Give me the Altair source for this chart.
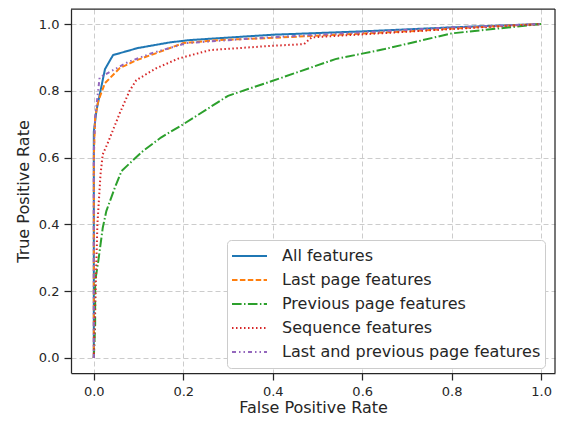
import altair as alt
import pandas as pd

series_names = ["All features", "Last page features", "Previous page features",
                "Sequence features", "Last and previous page features"]
colors = ["#1f77b4", "#ff7f0e", "#2ca02c", "#d62728", "#9467bd"]
dashes = [[1, 0], [5.5, 2.4], [9.6, 2.4, 1.5, 2.4], [1.5, 2.5], [4, 3, 1.5, 3, 1.5, 3]]

all_fpr = [0, 0, 0.006, 0.025, 0.043, 0.098, 0.17, 0.215, 0.4, 0.6, 0.8, 1.0]
all_tpr = [0, 0.677, 0.742, 0.865, 0.907, 0.928, 0.945, 0.952, 0.968, 0.978, 0.99, 1.0]

last_fpr = [0, 0, 0.003, 0.01, 0.025, 0.058, 0.096, 0.14, 0.2, 0.28, 0.39, 0.483, 0.7, 0.85, 1.0]
last_tpr = [0, 0.6, 0.72, 0.77, 0.823, 0.868, 0.892, 0.913, 0.943, 0.952, 0.958, 0.964, 0.978, 0.99, 1.0]

prev_fpr = [0, 0.003, 0.003, 0.01, 0.02, 0.028, 0.047, 0.062, 0.11, 0.15, 0.2, 0.3, 0.4, 0.54, 0.65, 0.8, 1.0]
prev_tpr = [0, 0.1, 0.23, 0.29, 0.39, 0.44, 0.51, 0.56, 0.62, 0.66, 0.70, 0.785, 0.83, 0.895, 0.925, 0.972, 1.0]

seq_fpr = [0, 0.003, 0.008, 0.015, 0.02, 0.03, 0.04, 0.058, 0.08, 0.095, 0.14, 0.19, 0.26, 0.39, 0.47, 0.487, 0.8, 1.0]
seq_tpr = [0, 0.15, 0.4, 0.55, 0.61, 0.64, 0.673, 0.733, 0.80, 0.832, 0.868, 0.897, 0.922, 0.934, 0.94, 0.96, 0.985, 1.0]

both_fpr = [0, 0, 0.003, 0.013, 0.076, 0.13, 0.208, 0.39, 0.6, 0.8, 1.0]
both_tpr = [0, 0.62, 0.72, 0.84, 0.886, 0.913, 0.943, 0.96, 0.975, 0.99, 1.0]

x_ticks = [0.0, 0.2, 0.4, 0.6, 0.8, 1.0]
y_ticks = [0.0, 0.2, 0.4, 0.6, 0.8, 1.0]

rows = []
for name, fx, ty in zip(series_names,
                        [all_fpr, last_fpr, prev_fpr, seq_fpr, both_fpr],
                        [all_tpr, last_tpr, prev_tpr, seq_tpr, both_tpr]):
    for i, (a, b) in enumerate(zip(fx, ty)):
        rows.append({"series": name, "fpr": a, "tpr": b, "idx": i})
df = pd.DataFrame(rows)

W, H = 484, 364
FRAME = "#262626"

axis_common = dict(
    grid=True, gridDash=[5, 3], gridColor="#cccccc", gridWidth=1,
    domain=True, domainColor=FRAME, domainWidth=1.25,
    ticks=True, tickSize=7, tickColor=FRAME, tickWidth=1.25,
    labelFont="DejaVu Sans", labelFontSize=13, labelColor=FRAME,
    titleFont="DejaVu Sans", titleFontSize=16, titleColor=FRAME, titleFontWeight="normal",
    format=".1f",
)

legend = alt.Legend(
    title=None, orient="none", legendX=156, legendY=231,
    symbolType="stroke", symbolStrokeWidth=2, symbolSize=1225,
    labelFont="DejaVu Sans", labelFontSize=16, labelColor=FRAME, labelLimit=500,
    fillColor="white", strokeColor="#cccccc", cornerRadius=4,
    padding=4, rowPadding=0, clipHeight=24, labelOffset=14,
)

lines = alt.Chart(df).mark_line(strokeWidth=2).encode(
    x=alt.X("fpr:Q", title="False Positive Rate",
            scale=alt.Scale(domain=[-0.051, 1.031], nice=False, zero=False),
            axis=alt.Axis(values=x_ticks, labelPadding=5, titlePadding=1, **axis_common)),
    y=alt.Y("tpr:Q", title="True Positive Rate",
            scale=alt.Scale(domain=[-0.045, 1.045], nice=False, zero=False),
            axis=alt.Axis(values=y_ticks, labelPadding=5, titlePadding=7, **axis_common)),
    color=alt.Color("series:N", sort=series_names,
                    scale=alt.Scale(domain=series_names, range=colors), legend=legend),
    strokeDash=alt.StrokeDash("series:N", sort=series_names,
                              scale=alt.Scale(domain=series_names, range=dashes), legend=legend),
    order=alt.Order("idx:Q"),
)

frame_src = alt.Data(values=[{"k": 1}])
top_rule = alt.Chart(frame_src).mark_rule(color=FRAME, strokeWidth=1.25).encode(
    x=alt.value(0), x2=alt.value(W), y=alt.value(0))
right_rule = alt.Chart(frame_src).mark_rule(color=FRAME, strokeWidth=1.25).encode(
    x=alt.value(W), y=alt.value(0), y2=alt.value(H))

chart = alt.layer(lines, top_rule, right_rule).properties(
    width=W, height=H,
    autosize=alt.AutoSizeParams(type="none"),
    padding={"left": 63, "top": 1, "right": 1, "bottom": 44},
).configure_view(
    stroke=None
)

chart.save("out.html", embed_options={"renderer": "svg", "actions": False})
